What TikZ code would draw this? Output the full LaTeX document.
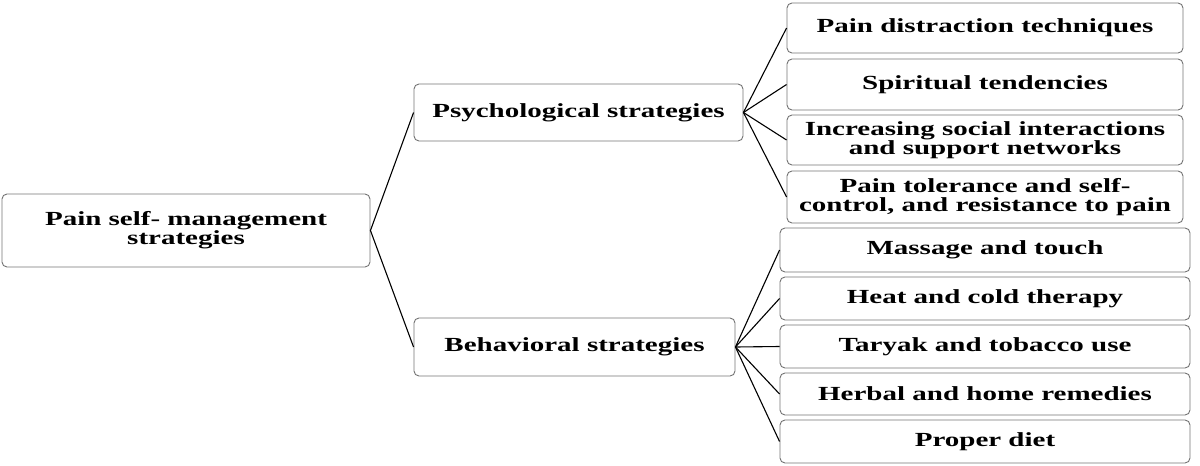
\documentclass[tikz,border=0pt]{standalone}
\usepackage{fontspec}
\setmainfont[FakeStretch=1.45]{Liberation Serif}
\begin{document}
\begin{tikzpicture}[x=1pt,y=-1pt,
  bx/.style={draw=black!55,line width=0.9pt,rounded corners=5pt,align=center,inner sep=0pt,font=\bfseries\fontsize{20}{19}\selectfont},
  ln/.style={black,line width=1.1pt}]
\useasboundingbox (0,0) rectangle (1200,466);
\newcommand\bxat[6]{\node[bx,minimum width=#4-#2,minimum height=#5-#3] (#1) at ({(#2+#4)/2},{(#3+#5)/2}) {#6};}
\bxat{root}{2}{194}{370}{267}{Pain self- management\\strategies}
\bxat{psy}{414}{84}{743}{141}{Psychological strategies}
\bxat{beh}{414}{318}{735}{376}{Behavioral strategies}
\bxat{p1}{787}{3}{1183}{53}{Pain distraction techniques}
\bxat{p2}{787}{59}{1183}{110}{Spiritual tendencies}
\bxat{p3}{787}{115}{1183}{165}{Increasing social interactions\\and support networks}
\bxat{p4}{787}{171}{1183}{223}{Pain tolerance and self-\\control, and resistance to pain}
\bxat{b1}{780}{228}{1190}{272}{Massage and touch}
\bxat{b2}{780}{277}{1190}{320}{Heat and cold therapy}
\bxat{b3}{780}{325}{1190}{368}{Taryak and tobacco use}
\bxat{b4}{780}{373}{1190}{415}{Herbal and home remedies}
\bxat{b5}{780}{420}{1190}{463}{Proper diet}
\draw[ln] (psy.west) -- (root.east) -- (beh.west);
\foreach \n in {p1,p2,p3,p4} \draw[ln] (psy.east) -- (\n.west);
\foreach \n in {b1,b2,b3,b4,b5} \draw[ln] (beh.east) -- (\n.west);
\end{tikzpicture}
\end{document}
